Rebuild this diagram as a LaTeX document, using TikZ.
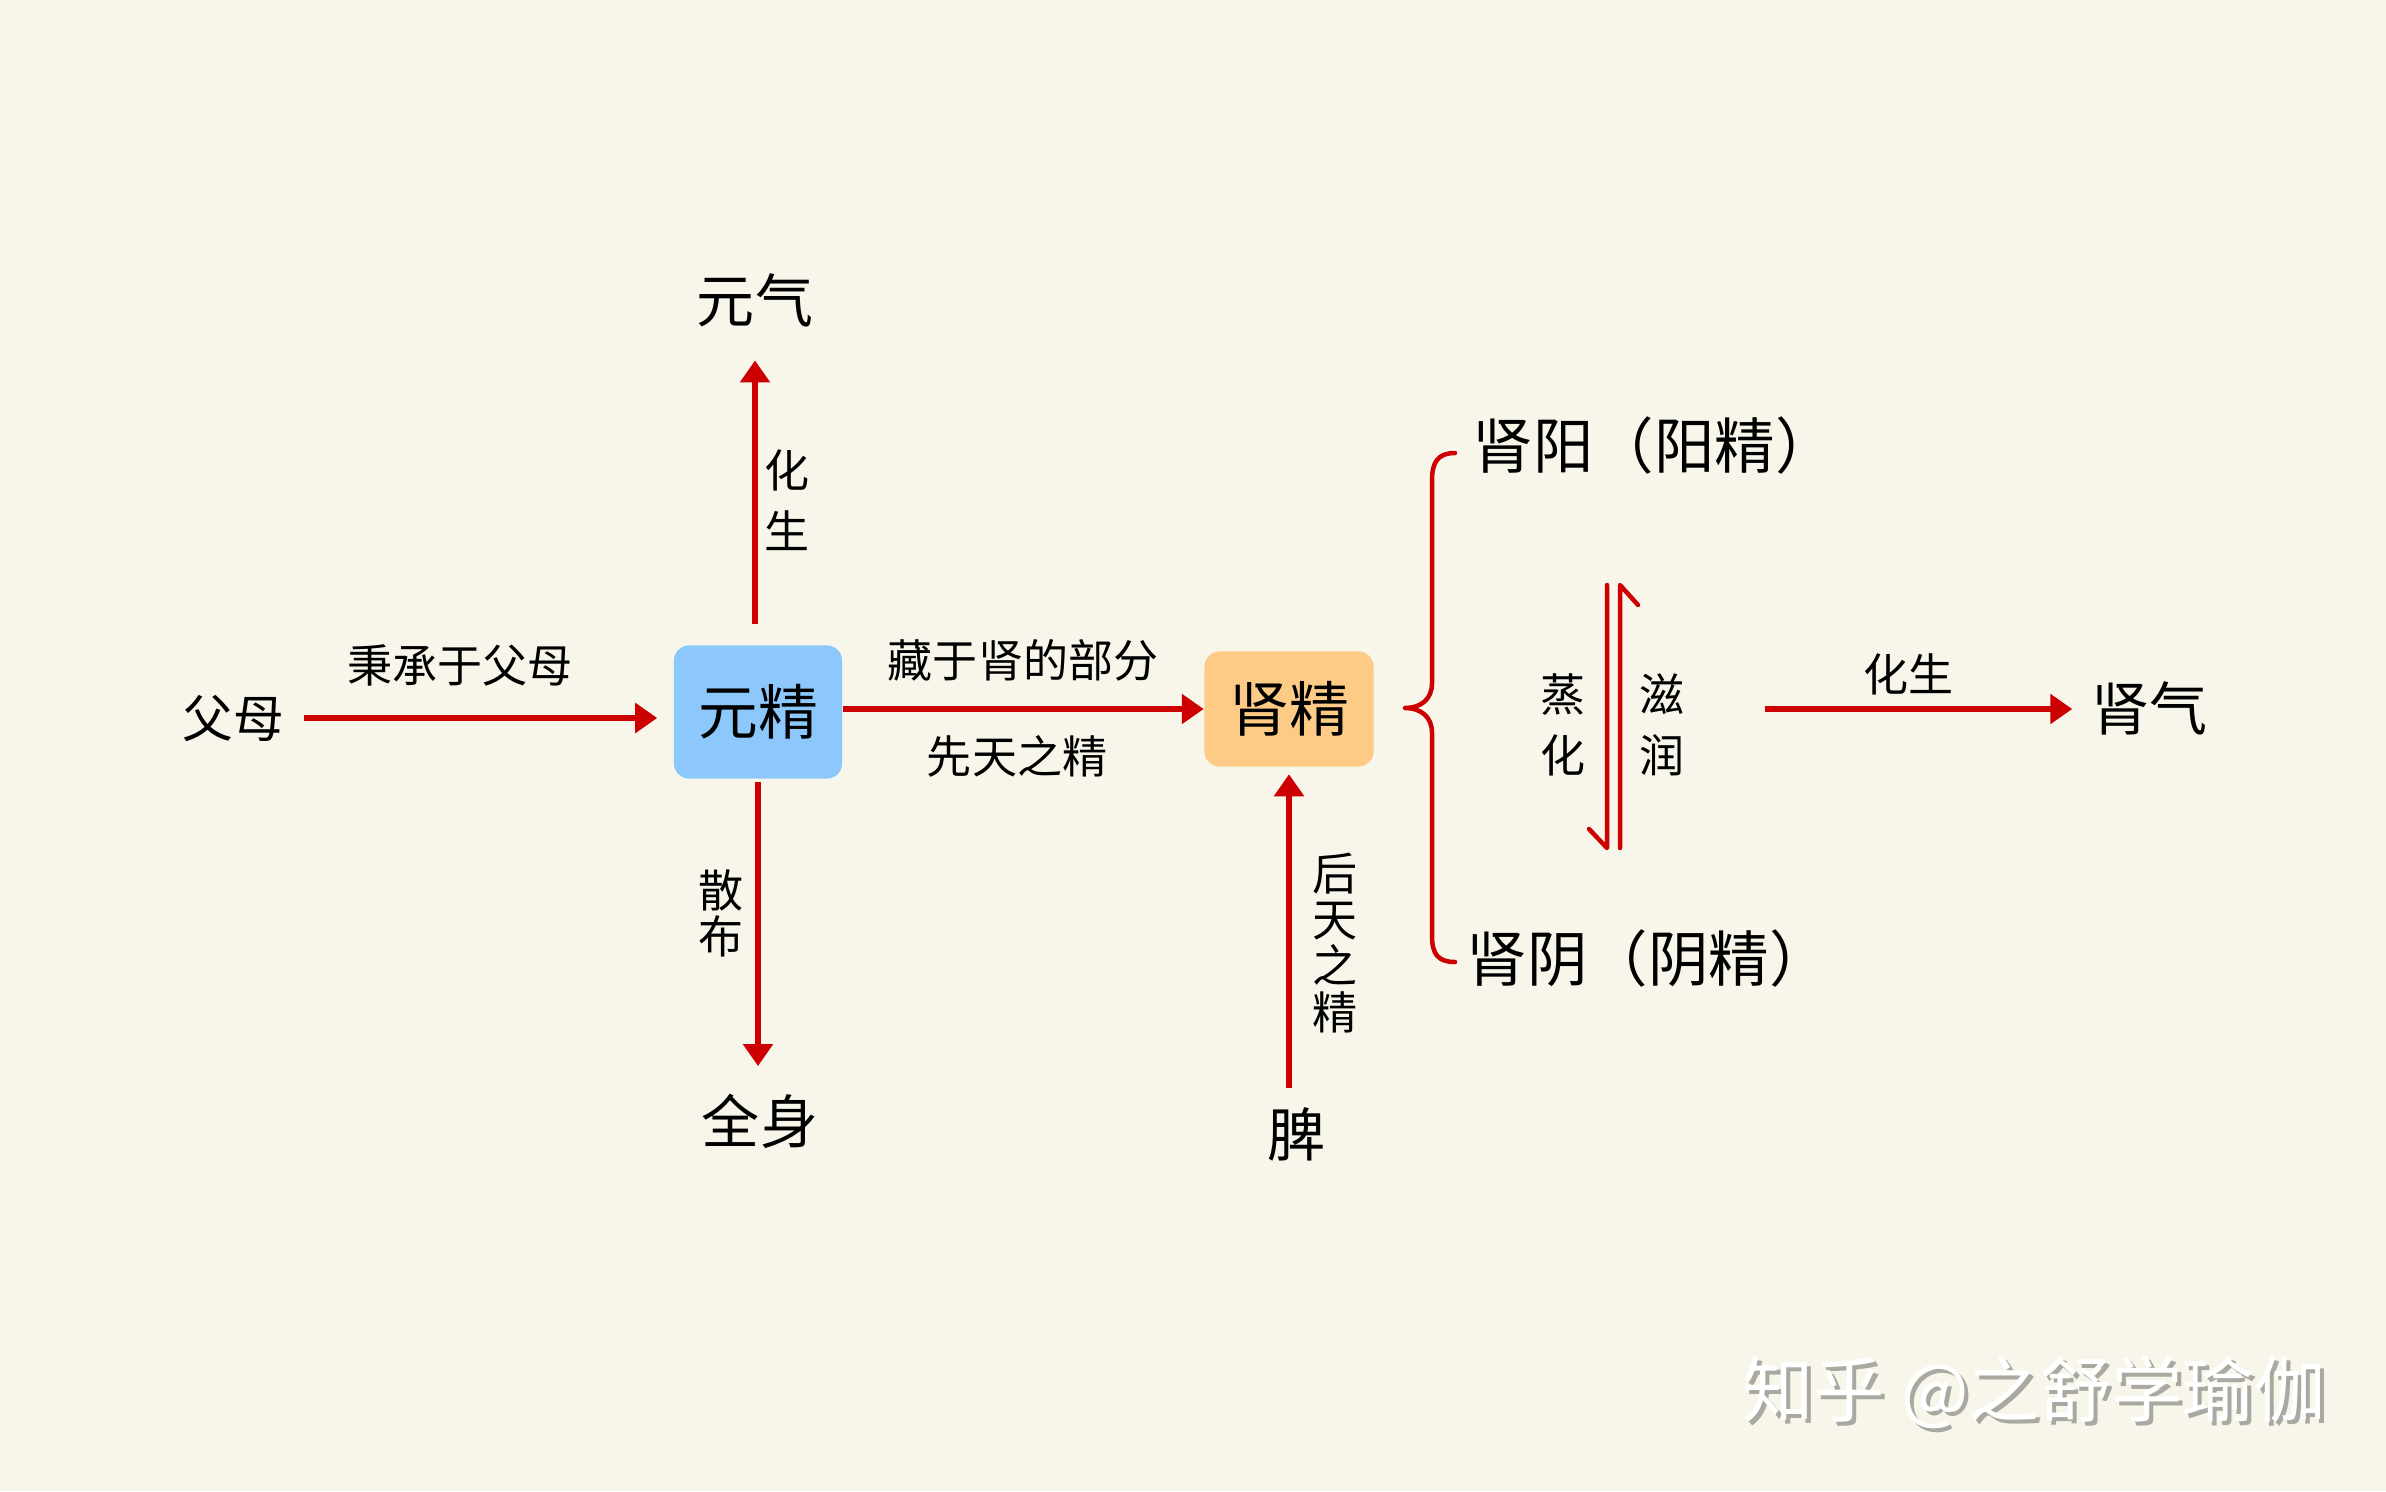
\documentclass[tikz,border=0pt]{standalone}
\usepackage{fontspec}
\newfontfamily\cjk{Noto Sans CJK SC}
\usetikzlibrary{arrows.meta,calc}
\definecolor{bg}{HTML}{F8F6EA}
\definecolor{ared}{HTML}{CC0000}
\definecolor{bluebox}{HTML}{8DC8FC}
\definecolor{orangebox}{HTML}{FDCB86}
\definecolor{wmgray}{HTML}{A9A9A2}
\begin{document}
\begin{tikzpicture}[x=0.01cm,y=-0.01cm,
  lblbig/.style={font=\cjk\fontsize{16.5pt}{20pt}\selectfont, inner sep=0pt},
  lblsmall/.style={font=\cjk\fontsize{12.8pt}{15pt}\selectfont, inner sep=0pt},
  vlabel/.style={font=\cjk\fontsize{12.8pt}{17.4pt}\selectfont, inner sep=0pt, align=center},
  vtight/.style={font=\cjk\fontsize{12.8pt}{13.1pt}\selectfont, inner sep=0pt, align=center},
  ybox/.style={font=\cjk\fontsize{17pt}{20pt}\selectfont, rounded corners=0.15cm, inner sep=0pt},
  arr/.style={draw=ared, line width=0.062cm, -{Triangle[length=0.22cm,width=0.29cm]}},
  hline/.style={draw=ared, line width=0.045cm, line cap=round, line join=round},
  wmark/.style={font=\cjk\fontsize{20.3pt}{22pt}\selectfont, inner sep=0pt},
]
\fill[bg] (0,0) rectangle (2386,1491);
\useasboundingbox (0,0) rectangle (2386,1491);

% main nodes
\node[lblbig, font=\cjk\fontsize{14.4pt}{17pt}\selectfont] (fumu) at (233,718) {父母};
\node[ybox, fill=bluebox, minimum width=1.68cm, minimum height=1.33cm] (yj) at (758,712) {元精};
\node[ybox, fill=orangebox, minimum width=1.69cm, minimum height=1.15cm] (sj) at (1289,709) {肾精};
\node[lblbig] (yq) at (755,300) {元气};
\node[lblbig] (qs) at (760,1121) {全身};
\node[lblbig] (pi) at (1296,1134) {脾};
\node[lblbig, font=\cjk\fontsize{17.2pt}{20pt}\selectfont, anchor=west] (yang) at (1472,446) {肾阳（阳精）};
\node[lblbig, font=\cjk\fontsize{17.2pt}{20pt}\selectfont, anchor=west] (yin) at (1466,959) {肾阴（阴精）};
\node[lblbig] (sq) at (2149,708) {肾气};

% arrows
\draw[arr, shorten <=0.2cm, shorten >=0.16cm] (fumu.east) -- (fumu.east -| yj.west);
\draw[arr, shorten <=0.21cm, shorten >=0.33cm] (yq.south |- yj.north) -- (yq.south);
\draw[arr, shorten <=0.03cm, shorten >=0.27cm] (yj.south) -- (yj.south |- qs.north);
\draw[arr] (yj.east |- sj.west) -- (sj.west);
\draw[arr, shorten <=0.19cm, shorten >=0.07cm] (sj.south |- pi.north) -- (sj.south);
\coordinate (hs) at (1765,709);
\draw[arr, shorten >=0.18cm] (hs) -- (hs -| sq.west);

% labels
\node[lblsmall] (l1) at (460,665) {秉承于父母};
\node[vlabel] (l2) at (787,500) {化\\生};
\node[vtight] (l3) at (721,913) {散\\布};
\node[lblsmall] (l4) at (1023,660) {藏于肾的部分};
\node[lblsmall] (l5) at (1017,756) {先天之精};
\node[vtight] (l6) at (1335,943) {后\\天\\之\\精};
\node[vlabel] (l7) at (1563,725) {蒸\\化};
\node[vlabel] (l8) at (1662,725) {滋\\润};
\node[lblsmall] (l9) at (1908,674) {化生};

% brace
\draw[hline] (1455,453) .. controls (1438,453) and (1432,462) .. (1432,480) -- (1432,683)
  .. controls (1432,700) and (1420,708) .. (1405,708)
  .. controls (1420,708) and (1432,716) .. (1432,733) -- (1432,936)
  .. controls (1432,954) and (1438,962) .. (1455,962);

% harpoons
\coordinate (la) at (1607,585);
\coordinate (lb) at (1607,848);
\coordinate (lbarb) at (1589,829);
\draw[hline] (la) -- (lb) -- (lbarb);
\coordinate (ra) at (1620,848);
\coordinate (rb) at (1620,585);
\coordinate (rbarb) at (1638,605);
\draw[hline] (ra) -- (rb) -- (rbarb);

% watermark
\node[wmark, text=wmgray] (wm2) at (2038,1396) {知乎 @之舒学瑜伽};
\node[wmark, text=white] (wm) at (2034,1392) {知乎 @之舒学瑜伽};
\end{tikzpicture}
\end{document}
